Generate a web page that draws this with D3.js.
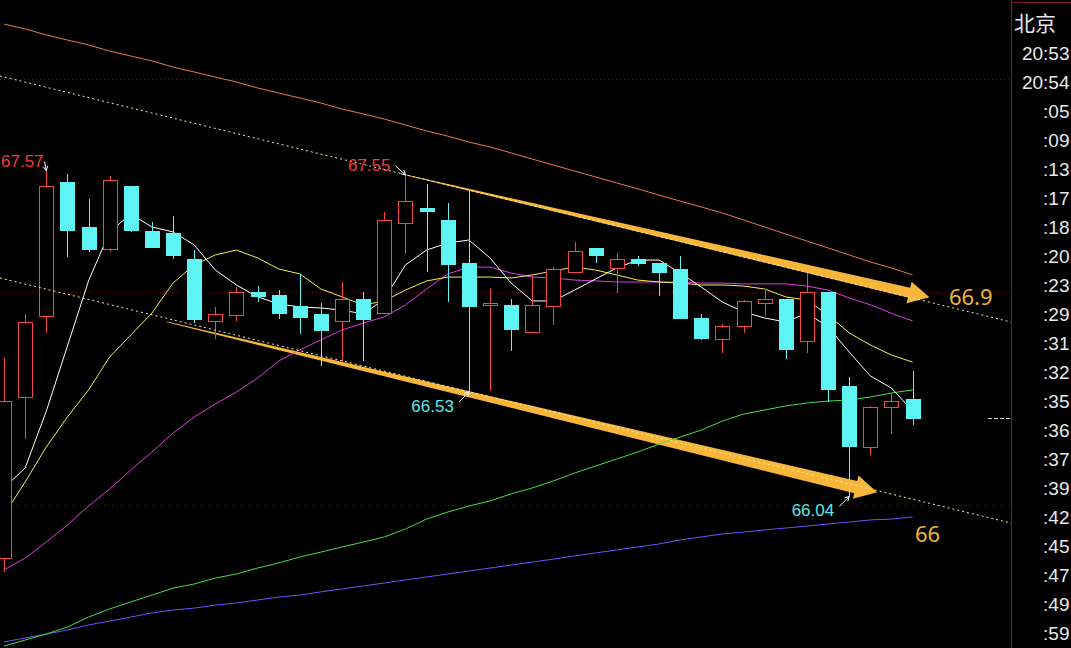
<!DOCTYPE html>
<html><head><meta charset="utf-8">
<script src="https://cdn.jsdelivr.net/npm/d3@7"></script>
<style>html,body{margin:0;padding:0;background:#000;overflow:hidden}</style>
</head><body>
<svg id="c" width="1071" height="648"></svg>
<script>
// ---------- data ----------
const opens  = [65.751,66.507,66.887,67.516,67.305,67.202,67.498,67.286,67.277,67.155,66.864,66.892,67.000,66.986,66.934,66.897,66.864,66.967,66.901,67.324,67.394,67.338,67.136,66.939,66.939,66.812,66.934,67.094,67.207,67.113,67.155,67.136,67.108,66.878,66.779,66.840,66.948,66.967,66.770,67.000,66.559,66.272,66.460,66.498];
const closes = [66.488,66.859,67.498,67.291,67.202,67.526,67.291,67.211,67.174,66.873,66.897,67.000,66.981,66.901,66.883,66.822,66.967,66.873,67.338,67.427,67.380,67.131,66.934,66.948,66.826,66.939,67.108,67.192,67.174,67.155,67.136,67.094,66.878,66.784,66.840,66.958,66.967,66.732,67.000,66.545,66.277,66.460,66.488,66.410];
const highs  = [66.690,66.897,67.570,67.554,67.437,67.545,67.498,67.329,67.357,67.197,66.930,67.023,67.028,67.009,67.085,66.948,67.047,67.000,67.376,67.550,67.507,67.418,67.474,67.019,66.967,67.080,67.117,67.235,67.207,67.183,67.169,67.136,67.169,66.897,66.850,66.962,67.014,66.967,67.089,67.000,66.601,66.465,66.526,66.629];
const lows   = [65.685,66.310,66.808,67.164,67.188,67.188,67.282,67.211,67.155,66.854,66.779,66.864,66.953,66.873,66.803,66.653,66.671,66.676,66.901,67.178,67.094,66.953,66.530,66.535,66.723,66.812,66.845,67.094,67.136,66.995,67.122,66.981,66.878,66.775,66.714,66.808,66.887,66.685,66.714,66.484,66.040,66.235,66.333,66.376];

const ma5   = [66.080,66.174,66.440,66.746,67.052,67.282,67.366,67.305,67.282,67.221,67.103,67.033,66.977,66.944,66.930,66.925,66.915,66.897,66.967,67.127,67.197,67.230,67.244,67.160,67.042,66.958,66.958,67.009,67.061,67.113,67.150,67.150,67.089,67.023,66.953,66.906,66.878,66.859,66.901,66.836,66.718,66.606,66.549,66.441];
const ma10  = [65.953,66.108,66.272,66.413,66.540,66.695,66.798,66.901,67.042,67.127,67.174,67.197,67.160,67.108,67.085,67.014,66.977,66.939,66.958,67.009,67.052,67.070,67.070,67.070,67.066,67.080,67.099,67.117,67.103,67.080,67.056,67.047,67.042,67.033,67.033,67.028,67.014,66.977,66.962,66.892,66.808,66.751,66.704,66.671];
const ma20  = [65.695,65.751,65.826,65.906,65.995,66.075,66.164,66.249,66.338,66.413,66.474,66.530,66.596,66.676,66.728,66.775,66.822,66.854,66.883,66.939,67.014,67.085,67.117,67.117,67.089,67.070,67.066,67.056,67.052,67.047,67.047,67.047,67.047,67.042,67.042,67.038,67.038,67.038,67.028,67.009,66.972,66.940,66.900,66.864];
const ma60  = [65.338,65.366,65.394,65.427,65.474,65.512,65.545,65.577,65.610,65.629,65.657,65.676,65.704,65.728,65.756,65.779,65.803,65.826,65.850,65.887,65.934,65.967,65.995,66.019,66.052,66.080,66.113,66.150,66.183,66.216,66.249,66.286,66.319,66.352,66.394,66.427,66.446,66.465,66.479,66.488,66.493,66.507,66.526,66.540];
const ma120 = [65.357,65.376,65.394,65.413,65.437,65.455,65.474,65.493,65.507,65.516,65.530,65.540,65.554,65.568,65.577,65.592,65.606,65.620,65.634,65.648,65.662,65.676,65.690,65.704,65.718,65.732,65.746,65.761,65.775,65.789,65.803,65.817,65.836,65.850,65.864,65.873,65.883,65.892,65.901,65.911,65.920,65.930,65.934,65.944];
const ma250 = [68.258,68.235,68.207,68.183,68.160,68.131,68.108,68.085,68.056,68.033,68.009,67.986,67.958,67.934,67.911,67.887,67.859,67.836,67.812,67.784,67.756,67.732,67.704,67.681,67.653,67.624,67.596,67.568,67.540,67.512,67.484,67.455,67.427,67.399,67.371,67.338,67.305,67.272,67.239,67.207,67.174,67.141,67.113,67.080];

const gridPrices = [66, 67, 68];
const panelTitle = "北京";
const timeLabels = ["20:53","20:54",":05",":09",":13",":17",":18",":20",":23",":29",":31",":32",":35",":36",":37",":39",":42",":45",":47",":49",":59"];

// trend channel (index, price)
const channelUpper = [[-0.19, 68.014], [47.66, 66.859]];
const channelLower = [[-0.19, 67.066], [47.66, 65.915]];
// thick target arrows: tail -> tip (index, price)
const arrowUpperPts = [[19, 67.55], [43.8, 66.975]];
const arrowLowerPts = [[7.7, 66.86], [41.32, 66.06]];
// target labels (index, price of baseline)
const targetText  = ["66.9", "66"];
const targetIdx   = [44.72, 43.11];
const targetPrice = [66.939, 65.826];
// extreme labels
const extremeIdx   = [2, 19, 22, 40];
const extremePrice = [67.57, 67.55, 66.53, 66.04];
const extremeKind  = ["high", "high", "low", "low"];

// ---------- drawing ----------
const W = 1071, H = 648, plotRight = 1011;
const svg = d3.select("#c");
svg.append("rect").attr("width", W).attr("height", H).attr("fill", "#000");

const x = d3.scaleLinear().domain([0, 43]).range([4, 912.6]);
const y = d3.scaleLinear().domain([66, 68]).range([505, 79]);

svg.append("clipPath").attr("id", "plot").append("rect")
  .attr("x", 0).attr("y", 0).attr("width", plotRight).attr("height", H);
const g = svg.append("g").attr("clip-path", "url(#plot)");

// grid
g.selectAll("line.grid").data(gridPrices).enter().append("line")
  .attr("x1", 0).attr("x2", plotRight)
  .attr("y1", d => Math.round(y(d)) + 0.5).attr("y2", d => Math.round(y(d)) + 0.5)
  .attr("stroke", "#5e1818").attr("stroke-dasharray", "1,3");

// thick arrows
function arrowPoly(p0, p1, w0, w1, hl, hw) {
  const dx = p1[0] - p0[0], dy = p1[1] - p0[1];
  const L = Math.hypot(dx, dy), ux = dx / L, uy = dy / L, nx = -uy, ny = ux;
  const bx = p1[0] - ux * hl, by = p1[1] - uy * hl;
  return [[p0[0] + nx * w0, p0[1] + ny * w0], [bx + nx * w1, by + ny * w1], [bx + nx * hw, by + ny * hw],
          p1, [bx - nx * hw, by - ny * hw], [bx - nx * w1, by - ny * w1], [p0[0] - nx * w0, p0[1] - ny * w0]];
}
const px = p => [x(p[0]), y(p[1])];
const arrowSpecs = [
  { pts: arrowUpperPts, w1: 5, hl: 21, hw: 11 },
  { pts: arrowLowerPts, w1: 6.3, hl: 22, hw: 12 }
];
g.selectAll("polygon.arrow").data(arrowSpecs).enter().append("polygon")
  .attr("points", d => arrowPoly(px(d.pts[0]), px(d.pts[1]), 0.4, d.w1, d.hl, d.hw).map(p => p.join(",")).join(" "))
  .attr("fill", "#f7b539");

// moving-average lines
const lineGen = d3.line().x((d, i) => x(i)).y(d => y(d));
const maSeries = [
  { v: ma250, c: "#ee7a48" },
  { v: ma120, c: "#6c52ff" },
  { v: ma60,  c: "#44e044" },
  { v: ma20,  c: "#e23ce2" },
  { v: ma10,  c: "#f2f24a" },
  { v: ma5,   c: "#ffffff" }
];
g.selectAll("path.ma").data(maSeries).enter().append("path")
  .attr("d", d => lineGen(d.v)).attr("fill", "none")
  .attr("stroke", d => d.c).attr("stroke-width", 1);

// candles
const candles = opens.map((o, i) => ({ i, o, c: closes[i], h: highs[i], l: lows[i] }));
const UP = "#f04848", DOWN = "#5ef4f4";
const cg = g.selectAll("g.candle").data(candles).enter().append("g");
cg.each(function (d) {
  const s = d3.select(this);
  const cx = Math.round(x(d.i));
  const up = d.c >= d.o;
  const top = Math.round(y(Math.max(d.o, d.c))), bot = Math.round(y(Math.min(d.o, d.c)));
  const yh = Math.round(y(d.h)), yl = Math.round(y(d.l));
  if (up) {
    s.append("line").attr("x1", cx + 0.5).attr("x2", cx + 0.5).attr("y1", yh).attr("y2", top).attr("stroke", UP);
    s.append("line").attr("x1", cx + 0.5).attr("x2", cx + 0.5).attr("y1", bot + 1).attr("y2", yl).attr("stroke", UP);
    s.append("rect").attr("x", cx - 7 + 0.5).attr("y", top + 0.5).attr("width", 14)
      .attr("height", Math.max(1, bot - top)).attr("fill", "#000").attr("stroke", UP);
  } else {
    s.append("line").attr("x1", cx + 0.5).attr("x2", cx + 0.5).attr("y1", yh).attr("y2", yl).attr("stroke", DOWN);
    s.append("rect").attr("x", cx - 7).attr("y", top).attr("width", 15)
      .attr("height", Math.max(2, bot - top + 1)).attr("fill", DOWN);
  }
});

// dotted channel lines
g.selectAll("line.chan").data([channelUpper, channelLower]).enter().append("line")
  .attr("x1", d => x(d[0][0])).attr("y1", d => y(d[0][1]))
  .attr("x2", d => x(d[1][0])).attr("y2", d => y(d[1][1]))
  .attr("stroke", "#f4f0a0").attr("stroke-width", 1).attr("stroke-dasharray", "2,3");

// extreme labels with small arrows (text kept inside the plot)
const labelFont = "'Liberation Sans', Arial, sans-serif";
extremeIdx.forEach((idx, k) => {
  const tx = x(idx), ty = y(extremePrice[k]);
  const hi = extremeKind[k] === "high";
  const col = hi ? "#f03c3c" : "#5ae8ea";
  const t = g.append("text").attr("x", tx - 15).attr("y", hi ? ty - 4 : ty + 20)
    .attr("text-anchor", "end").attr("fill", col)
    .attr("font-family", labelFont).attr("font-size", 17)
    .text(extremePrice[k].toFixed(2));
  const bb = t.node().getBBox();
  let textRight = tx - 15;
  if (bb.x < 1) { t.attr("text-anchor", "start").attr("x", 1); textRight = 1 + bb.width; }
  const sx = Math.max(tx - 10, textRight + 1), sy = hi ? ty - 9 : ty + 10;
  g.append("line").attr("x1", sx).attr("y1", sy).attr("x2", tx).attr("y2", ty)
    .attr("stroke", "#ffffff").attr("stroke-width", 1);
  const ang = Math.atan2(ty - sy, tx - sx);
  [0.5, -0.5].forEach(a => {
    g.append("line").attr("x1", tx).attr("y1", ty)
      .attr("x2", tx - 5 * Math.cos(ang + a)).attr("y2", ty - 5 * Math.sin(ang + a))
      .attr("stroke", "#ffffff").attr("stroke-width", 1);
  });
});

// target labels
targetText.forEach((t, k) => {
  g.append("text").attr("x", x(targetIdx[k])).attr("y", y(targetPrice[k]))
    .attr("fill", "#f2b43c").attr("font-family", "'Noto Sans', 'Liberation Sans', sans-serif")
    .attr("font-size", 22).text(t);
});

// current price marker
svg.append("line").attr("x1", 988).attr("x2", plotRight)
  .attr("y1", Math.round(y(closes[closes.length - 1])) + 0.5)
  .attr("y2", Math.round(y(closes[closes.length - 1])) + 0.5)
  .attr("stroke", "#d8d8d8").attr("stroke-dasharray", "4,2");

// right panel
svg.append("line").attr("x1", plotRight + 0.5).attr("x2", plotRight + 0.5).attr("y1", 0).attr("y2", H)
  .attr("stroke", "#801e1e");
svg.append("line").attr("x1", plotRight).attr("x2", W).attr("y1", 2.5).attr("y2", 2.5)
  .attr("stroke", "#801e1e");
svg.append("text").attr("x", 1014).attr("y", 31)
  .attr("fill", "#e8e8e8").attr("font-family", "'Noto Sans CJK SC', sans-serif").attr("font-size", 21)
  .text(panelTitle);
svg.selectAll("text.time").data(timeLabels).enter().append("text")
  .attr("x", 1069.5).attr("y", (d, k) => 60 + 29 * k)
  .attr("text-anchor", "end").attr("fill", "#e8e8e8")
  .attr("font-family", labelFont).attr("font-size", 19)
  .text(d => d);
</script>
</body></html>
